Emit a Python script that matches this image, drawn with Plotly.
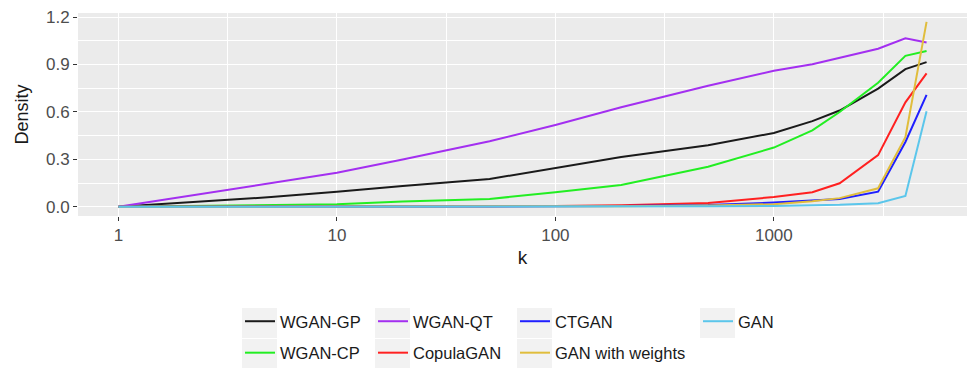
import plotly.graph_objects as go

k = [1, 2, 5, 10, 20, 50, 100, 200, 500, 1000, 1500, 2000, 3000, 4000, 5000]

wgan_gp = [0, 0.025, 0.062, 0.095, 0.132, 0.176, 0.245, 0.315, 0.39, 0.467, 0.542, 0.609, 0.748, 0.871, 0.915]
wgan_qt = [0, 0.065, 0.15, 0.215, 0.30, 0.415, 0.518, 0.63, 0.766, 0.861, 0.902, 0.944, 1.0, 1.066, 1.04]
ctgan = [0, 0, 0, 0.001, 0.001, 0.002, 0.003, 0.006, 0.012, 0.027, 0.038, 0.05, 0.096, 0.41, 0.708]
gan = [0, 0, 0, 0, 0, 0.001, 0.001, 0.002, 0.003, 0.006, 0.009, 0.013, 0.023, 0.069, 0.605]
wgan_cp = [0, 0.004, 0.01, 0.016, 0.033, 0.05, 0.092, 0.138, 0.253, 0.375, 0.484, 0.6, 0.785, 0.955, 0.985]
copulagan = [0, 0, 0.001, 0.002, 0.003, 0.004, 0.006, 0.01, 0.025, 0.062, 0.092, 0.149, 0.327, 0.661, 0.844]
gan_weights = [0, 0, 0, 0, 0.001, 0.001, 0.002, 0.004, 0.008, 0.017, 0.035, 0.055, 0.117, 0.44, 1.17]

series = [
    ("WGAN-GP", wgan_gp, "#1a1a1a", "legend"),
    ("WGAN-CP", wgan_cp, "#22ee22", "legend"),
    ("WGAN-QT", wgan_qt, "#a32ff0", "legend2"),
    ("CopulaGAN", copulagan, "#ff2020", "legend2"),
    ("CTGAN", ctgan, "#1f1fff", "legend3"),
    ("GAN with weights", gan_weights, "#e0bd3c", "legend3"),
    ("GAN", gan, "#5bc6eb", "legend4"),
]

fig = go.Figure()
for name, vals, col, lg in series:
    fig.add_trace(go.Scatter(
        x=k, y=vals, mode="lines", name=name,
        line=dict(color=col, width=2),
        legend=lg, legendgroup=name,
    ))

W, H = 970, 370
ml, mr, mt, mb = 78, 3, 13, 154
pw = W - ml - mr
ph = H - mt - mb

def px_x(p):
    return (p - ml) / pw

def px_y(p):
    return (H - mb - p) / ph

font = "Liberation Sans, Arial, sans-serif"
leg_common = dict(
    orientation="v", xanchor="left", yanchor="top",
    font=dict(family=font, size=16.5, color="#1a1a1a"),
    bgcolor="rgba(0,0,0,0)", borderwidth=0, tracegroupgap=7,
    itemwidth=30,
)
key_x = [245, 378, 520, 703]   # start of legend key line (px)
top_y = 304

# grey legend-key backgrounds (ggplot style)
shapes = []
for kx in key_x:
    for (y0, y1) in [(308, 338), (339, 368)]:
        if kx == key_x[-1] and y0 == 339:
            continue
        shapes.append(dict(
            type="rect", xref="paper", yref="paper", layer="below",
            x0=px_x(kx - 3), x1=px_x(kx + 32), y0=px_y(y1), y1=px_y(y0),
            fillcolor="#f2f2f2", line=dict(width=0),
        ))

fig.update_layout(
    width=W, height=H,
    margin=dict(l=ml, r=mr, t=mt, b=mb, autoexpand=False),
    paper_bgcolor="white",
    plot_bgcolor="#ebebeb",
    font=dict(family=font, color="#4d4d4d"),
    shapes=shapes,
    legend=dict(x=px_x(key_x[0] - 5), y=px_y(top_y), **leg_common),
    legend2=dict(x=px_x(key_x[1] - 5), y=px_y(top_y), **leg_common),
    legend3=dict(x=px_x(key_x[2] - 5), y=px_y(top_y), **leg_common),
    legend4=dict(x=px_x(key_x[3] - 5), y=px_y(top_y), **leg_common),
    xaxis=dict(
        type="log", range=[-0.185, 3.884],
        tickvals=[1, 10, 100, 1000], ticktext=["1", "10", "100", "1000"],
        showgrid=True, gridcolor="white", gridwidth=1.2,
        minor=dict(tickvals=[3.1623, 31.623, 316.23, 3162.3], showgrid=True,
                   gridcolor="white", gridwidth=0.6, ticklen=0),
        ticks="outside", ticklen=4, tickcolor="#333333", tickwidth=1.2,
        tickfont=dict(size=17, color="#4d4d4d"),
        title=dict(text="k", font=dict(size=19, color="#1a1a1a"), standoff=6),
        zeroline=False, showline=False,
    ),
    yaxis=dict(
        range=[-0.058, 1.226],
        tickvals=[0, 0.3, 0.6, 0.9, 1.2], ticktext=["0.0", "0.3", "0.6", "0.9", "1.2"],
        showgrid=True, gridcolor="white", gridwidth=1.2,
        minor=dict(tickvals=[0.15, 0.45, 0.75, 1.05], showgrid=True,
                   gridcolor="white", gridwidth=0.6, ticklen=0),
        ticks="outside", ticklen=4, tickcolor="#333333", tickwidth=1.2,
        tickfont=dict(size=17, color="#4d4d4d"),
        title=dict(text="Density", font=dict(size=18, color="#1a1a1a"), standoff=12),
        zeroline=False, showline=False,
    ),
)

fig.write_html("out.html")
